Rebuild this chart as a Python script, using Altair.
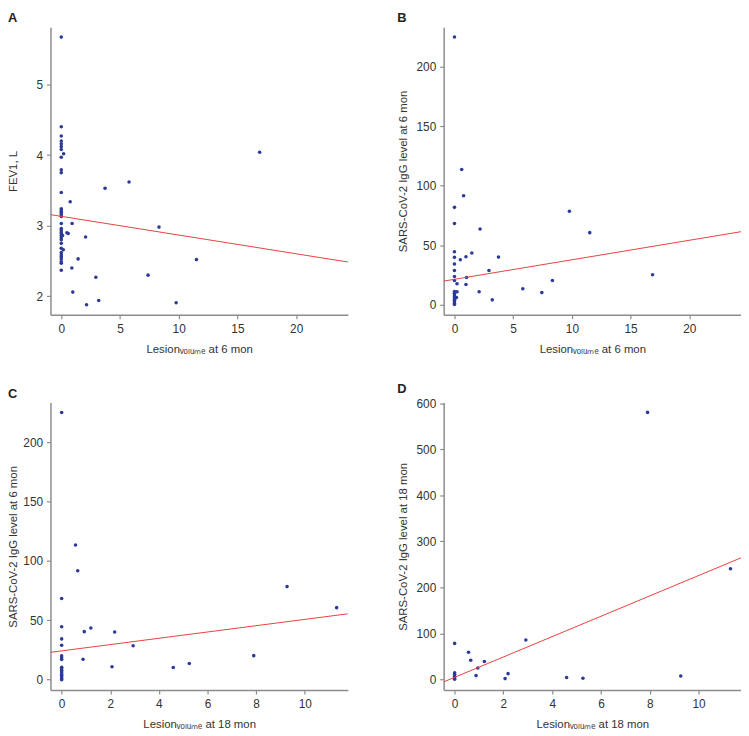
import altair as alt
import pandas as pd

# ---------------- Panel A: FEV1 vs lesion volume at 6 mon ----------------
a_x = [0, 0, 0, 0, 0, 0, 0, 0, 0, 0, 0, 0, 0, 0, 0, 0, 0, 0, 0, 0, 0, 0, 0, 0, 0, 0, 0, 0, 0, 0, 0, 0, 0,
       0.2, 0.76, 0.92, 0.48, 0.59, 0.11, 0.17, 2.07, 1.43, 0.9, 0.98, 2.15, 3.19, 2.94, 3.73, 5.77, 8.32, 7.39, 9.78, 11.51, 16.89]
a_y = [5.67, 4.40, 4.27, 4.20, 4.16, 4.12, 4.08, 3.97, 3.79, 3.75, 3.47, 3.24, 3.21, 3.19, 3.16, 3.13, 3.03, 2.96, 2.94, 2.91,
       2.89, 2.86, 2.83, 2.80, 2.75, 2.68, 2.62, 2.59, 2.56, 2.53, 2.49, 2.47, 2.37,
       4.02, 3.34, 3.03, 2.90, 2.89, 2.86, 2.66, 2.84, 2.53, 2.40, 2.06, 1.88, 1.94, 2.27, 3.53, 3.62, 2.98, 2.30, 1.91, 2.52, 4.04]
a_fit_x = [-0.92, 24.4]
a_fit_y = [3.157, 2.486]

# ---------------- Panel B: IgG 6 mon vs lesion volume at 6 mon ----------------
b_x = [0, 0, 0, 0, 0, 0, 0, 0, 0, 0, 0, 0, 0, 0, 0, 0, 0, 0,
       0.62, 0.78, 2.18, 9.79, 11.52, 16.87, 0.5, 0.98, 1.48, 3.75, 2.94, 1.03, 8.34, 0.22, 0.98, 5.82, 2.1, 7.44, 3.22, 0.22, 0.17]
b_y = [225.2, 81.8, 68.2, 44.4, 39.7, 34.1, 28.6, 23.6, 20.2, 11.0, 9.5, 8.0, 6.5, 5.0, 3.5, 2.0, 0.8, 0.0,
       113.7, 91.5, 63.5, 78.5, 60.5, 25.0, 37.7, 40.2, 43.3, 39.9, 28.6, 22.7, 20.2, 17.5, 16.9, 13.3, 10.8, 10.0, 3.9, 10.8, 5.8]
b_fit_x = [-0.92, 24.4]
b_fit_y = [19.7, 61.3]

# ---------------- Panel C: IgG 6 mon vs lesion volume at 18 mon ----------------
c_x = [0, 0, 0, 0, 0, 0, 0, 0, 0, 0, 0, 0, 0, 0, 0, 0, 0,
       0.57, 0.66, 9.27, 11.31, 0.93, 1.2, 2.18, 2.94, 0.88, 7.9, 2.07, 4.59, 5.25]
c_y = [224.9, 68.3, 44.5, 34.3, 29.0, 20.0, 18.2, 16.9, 10.5, 9.1, 7.7, 6.4, 5.0, 3.6, 2.2, 0.8, 0.0,
       113.4, 91.6, 78.3, 60.6, 40.4, 43.4, 40.1, 28.5, 17.2, 20.2, 10.8, 10.2, 13.6]
c_fit_x = [-0.46, 11.77]
c_fit_y = [23.0, 55.4]

# ---------------- Panel D: IgG 18 mon vs lesion volume at 18 mon ----------------
d_x = [0, 0, 0, 0, 0, 0,
       7.91, 11.31, 9.27, 0.57, 0.66, 1.22, 0.95, 0.88, 2.92, 2.19, 2.07, 4.59, 5.26]
d_y = [78.0, 14.3, 10.7, 6.4, 2.9, 0.0,
       580.7, 240.6, 7.2, 58.7, 41.5, 38.7, 24.3, 7.9, 85.2, 12.2, 1.4, 3.6, 2.1]
d_fit_x = [-0.45, 11.74]
d_fit_y = [-5.8, 264.2]

FONT = "Liberation Sans"
DOT = "#2b3a96"
RED = "#e8403f"
W, H = 301, 291

X6 = "Lesion\u1d65\u2092\u2097\u1d64\u2098\u2091 at 6 mon"
X18 = "Lesion\u1d65\u2092\u2097\u1d64\u2098\u2091 at 18 mon"


def panel(xs, ys, fx, fy, xdom, ydom, xticks, yticks, xtitle, ytitle, label, ext):
    pts = pd.DataFrame({"x": xs, "y": ys})
    fit = pd.DataFrame({"x": fx, "y": fy})
    xsc = alt.Scale(domain=xdom, nice=False, zero=False)
    ysc = alt.Scale(domain=ydom, nice=False, zero=False)
    p = alt.Chart(pts).mark_circle(size=13, color=DOT, opacity=1).encode(
        x=alt.X("x:Q", scale=xsc, axis=alt.Axis(values=xticks, title=xtitle, format="d")),
        y=alt.Y("y:Q", scale=ysc, axis=alt.Axis(values=yticks, title=ytitle, format="d",
                                                minExtent=ext, maxExtent=ext)),
    )
    l = alt.Chart(fit).mark_line(color=RED, strokeWidth=1, clip=True).encode(
        x=alt.X("x:Q", scale=xsc),
        y=alt.Y("y:Q", scale=ysc),
    )
    return alt.layer(p, l).properties(
        width=W, height=H,
        title=alt.TitleParams(label, anchor="start", fontSize=13, fontWeight="bold",
                              color="#222222", offset=2, font=FONT),
    )


A = panel(a_x, a_y, a_fit_x, a_fit_y, [-0.92, 24.4], [1.74, 5.81], [0, 5, 10, 15, 20], [2, 3, 4, 5],
          X6, "FEV1, L", "A", 24)
B = panel(b_x, b_y, b_fit_x, b_fit_y, [-0.92, 24.4], [-8.6, 233.5], [0, 5, 10, 15, 20], [0, 50, 100, 150, 200],
          X6, "SARS-CoV-2 IgG level at 6 mon", "B", 28)
C = panel(c_x, c_y, c_fit_x, c_fit_y, [-0.46, 11.77], [-8.8, 233.2], [0, 2, 4, 6, 8, 10], [0, 50, 100, 150, 200],
          X18, "SARS-CoV-2 IgG level at 6 mon", "C", 24)
D = panel(d_x, d_y, d_fit_x, d_fit_y, [-0.45, 11.74], [-23.6, 602], [0, 2, 4, 6, 8, 10], [0, 100, 200, 300, 400, 500, 600],
          X18, "SARS-CoV-2 IgG level at 18 mon", "D", 28)

chart = alt.vconcat(
    alt.hconcat(A, B, spacing=50),
    alt.hconcat(C, D, spacing=50),
    spacing=27,
).properties(
    padding={"left": 0, "top": 0, "right": 0, "bottom": 0}
).configure_view(stroke=None).configure_axis(
    grid=False,
    domainColor="#8c8c8c", domainWidth=1.5,
    tickColor="#8c8c8c", tickWidth=1.2, tickSize=4,
    labelFont=FONT, labelFontSize=12, labelColor="#333333",
    titleFont=FONT, titleFontSize=11.5, titleColor="#333333", titleFontWeight="normal",
).configure_axisY(
    labelPadding=4, titlePadding=8,
).configure_axisX(
    labelPadding=5, titlePadding=9,
)

chart.save("out.html", embed_options={"renderer": "svg", "actions": False})
